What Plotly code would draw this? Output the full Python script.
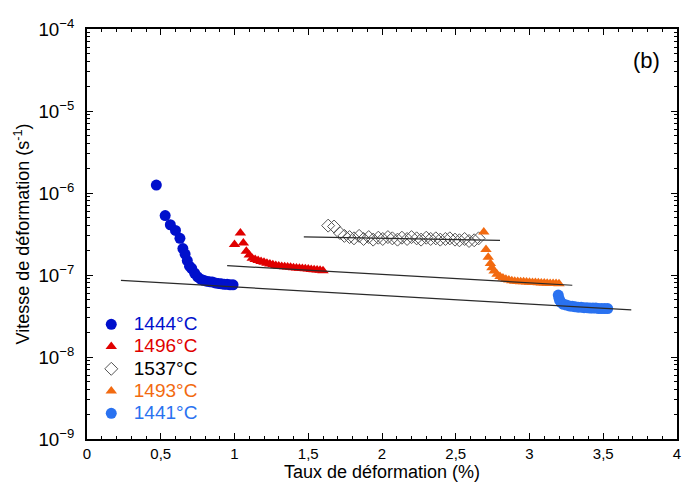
import plotly.graph_objects as go

# 1444°C
blue_x = [0.47, 0.53, 0.565, 0.60, 0.63, 0.65, 0.665, 0.68, 0.695, 0.71, 0.73, 0.75, 0.77,
          0.79, 0.81, 0.83, 0.85, 0.87, 0.89, 0.91, 0.93, 0.95, 0.97, 0.99]
blue_y = [1.25e-6, 5.3e-7, 4.1e-7, 3.5e-7, 2.8e-7, 2.1e-7, 1.8e-7, 1.5e-7, 1.28e-7, 1.2e-7,
          1.05e-7, 9.5e-8, 8.9e-8, 8.6e-8, 8.4e-8, 8.3e-8, 8.2e-8, 8.0e-8, 7.9e-8, 7.8e-8,
          7.7e-8, 7.7e-8, 7.6e-8, 7.6e-8]

# 1496°C
red_x = [1.00, 1.04, 1.06, 1.08, 1.10, 1.12, 1.14, 1.16, 1.18, 1.20, 1.22, 1.24, 1.26, 1.28,
         1.30, 1.32, 1.34, 1.36, 1.38, 1.40, 1.42, 1.44, 1.46, 1.48, 1.50, 1.52, 1.54, 1.56,
         1.58, 1.60]
red_y = [2.35e-7, 3.25e-7, 2.45e-7, 1.95e-7, 1.75e-7, 1.6e-7, 1.55e-7, 1.5e-7, 1.46e-7,
         1.43e-7, 1.39e-7, 1.36e-7, 1.33e-7, 1.31e-7, 1.29e-7, 1.27e-7, 1.26e-7, 1.25e-7,
         1.24e-7, 1.23e-7, 1.22e-7, 1.21e-7, 1.2e-7, 1.19e-7, 1.18e-7, 1.17e-7, 1.16e-7,
         1.15e-7, 1.14e-7, 1.13e-7]

# 1537°C
black_x = [1.635, 1.675, 1.715, 1.745, 1.78, 1.81, 1.845, 1.875, 1.91, 1.94, 1.975, 2.005,
           2.04, 2.07, 2.105, 2.135, 2.17, 2.20, 2.235, 2.265, 2.30, 2.33, 2.365, 2.395,
           2.43, 2.46, 2.495, 2.525, 2.56, 2.59, 2.625, 2.655]
black_y = [4.0e-7, 3.9e-7, 3.25e-7, 3.0e-7, 2.9e-7, 2.8e-7, 3.0e-7, 2.75e-7, 2.9e-7, 2.7e-7,
           2.85e-7, 2.75e-7, 2.9e-7, 2.8e-7, 2.7e-7, 2.85e-7, 2.75e-7, 2.9e-7, 2.8e-7, 2.7e-7,
           2.85e-7, 2.75e-7, 2.8e-7, 2.7e-7, 2.75e-7, 2.8e-7, 2.7e-7, 2.65e-7, 2.75e-7,
           2.6e-7, 2.65e-7, 2.8e-7]

# 1493°C
orange_x = [2.69, 2.705, 2.72, 2.735, 2.745, 2.76, 2.78, 2.80, 2.82, 2.84, 2.86, 2.88, 2.90,
            2.92, 2.94, 2.96, 2.98, 3.00, 3.02, 3.04, 3.06, 3.08, 3.10, 3.12, 3.14, 3.16,
            3.18, 3.20]
orange_y = [3.35e-7, 2.05e-7, 1.65e-7, 1.38e-7, 1.23e-7, 1.12e-7, 1.02e-7, 9.6e-8, 9.2e-8,
            8.9e-8, 8.7e-8, 8.5e-8, 8.4e-8, 8.35e-8, 8.3e-8, 8.25e-8, 8.2e-8, 8.15e-8,
            8.1e-8, 8.1e-8, 8.05e-8, 8.0e-8, 8.0e-8, 7.95e-8, 7.9e-8, 7.9e-8, 7.85e-8, 7.8e-8]

# 1441°C
lblue_x = [3.195, 3.20, 3.205, 3.215, 3.23, 3.25, 3.27, 3.29, 3.31, 3.33, 3.35, 3.37, 3.39,
           3.41, 3.43, 3.45, 3.47, 3.49, 3.51, 3.53]
lblue_y = [5.7e-8, 5.2e-8, 4.9e-8, 4.6e-8, 4.4e-8, 4.3e-8, 4.2e-8, 4.15e-8, 4.1e-8, 4.05e-8,
           4.05e-8, 4.0e-8, 4.0e-8, 3.95e-8, 3.95e-8, 3.95e-8, 3.9e-8, 3.9e-8, 3.9e-8, 3.9e-8]

# fitted lines
fit1_x = [0.23, 3.69]
fit1_y = [8.6e-8, 3.75e-8]
fit2_x = [0.95, 3.29]
fit2_y = [1.3e-7, 7.5e-8]
fit3_x = [1.47, 2.80]
fit3_y = [2.92e-7, 2.64e-7]

C_BLUE = "#0010cc"
C_RED = "#e00000"
C_BLACK = "#000000"
C_ORANGE = "#f26a10"
C_LBLUE = "#2a72f0"

FONT = "Liberation Sans, Arial, sans-serif"

def lab(txt, col):
    return f'<span style="color:{col};font-size:19px">{txt}</span>'

fig = go.Figure()
fig.add_trace(go.Scatter(x=blue_x, y=blue_y, mode="markers", name=lab("1444°C", C_BLUE),
                         marker=dict(symbol="circle", size=11, color=C_BLUE)))
fig.add_trace(go.Scatter(x=red_x, y=red_y, mode="markers", name=lab("1496°C", C_RED),
                         marker=dict(symbol="triangle-up", size=10, color=C_RED)))
fig.add_trace(go.Scatter(x=black_x, y=black_y, mode="markers", name=lab("1537°C", C_BLACK),
                         marker=dict(symbol="diamond-open", size=10, color="#555555",
                                     line=dict(width=1, color="#555555"))))
fig.add_trace(go.Scatter(x=orange_x, y=orange_y, mode="markers", name=lab("1493°C", C_ORANGE),
                         marker=dict(symbol="triangle-up", size=10, color=C_ORANGE)))
fig.add_trace(go.Scatter(x=lblue_x, y=lblue_y, mode="markers", name=lab("1441°C", C_LBLUE),
                         marker=dict(symbol="circle", size=11, color=C_LBLUE)))
for fx, fy in [(fit1_x, fit1_y), (fit2_x, fit2_y), (fit3_x, fit3_y)]:
    fig.add_trace(go.Scatter(x=fx, y=fy, mode="lines", showlegend=False,
                             line=dict(color="#2a2a2a", width=1.2)))

fig.update_layout(
    width=683, height=493,
    margin=dict(l=87, r=6, t=29, b=54),
    paper_bgcolor="white", plot_bgcolor="white",
    separators=", ",
    font=dict(family=FONT, color="black", size=15),
    legend=dict(x=0.003, y=0.319, xanchor="left", yanchor="top",
                font=dict(size=14.8, family=FONT), bgcolor="rgba(0,0,0,0)",
                itemwidth=35, tracegroupgap=0),
    showlegend=True,
)
fig.update_xaxes(
    range=[0, 4], dtick=0.5, tick0=0, showgrid=False, zeroline=False, automargin=False,
    showline=True, linecolor="black", linewidth=1.5, mirror="ticks",
    ticks="inside", ticklen=6, tickcolor="black",
    minor=dict(ticks="inside", ticklen=3, dtick=0.1, tickcolor="black"),
    tickfont=dict(size=15),
    title=dict(text="Taux de déformation (%)", font=dict(size=18), standoff=0),
)
fig.update_yaxes(
    type="log", range=[-9, -4], dtick=1, exponentformat="power", showexponent="all",
    showgrid=False, zeroline=False, automargin=False,
    showline=True, linecolor="black", linewidth=1.5, mirror="ticks",
    ticks="inside", ticklen=6, tickcolor="black",
    minor=dict(ticks="inside", ticklen=3, dtick="D1", tickcolor="black"),
    tickfont=dict(size=15), ticklabelstandoff=8,
    title=dict(text="Vitesse de déformation (s<sup>-1</sup>)", font=dict(size=18), standoff=4),
)
fig.add_annotation(x=0.949, y=0.924, xref="paper", yref="paper", text="(b)",
                   xanchor="center", yanchor="middle",
                   showarrow=False, font=dict(size=22, family=FONT))

fig.write_html(
    "out.html",
    config={"displayModeBar": False},
    post_script="document.body.style.margin='0';document.body.style.overflow='hidden';",
)
